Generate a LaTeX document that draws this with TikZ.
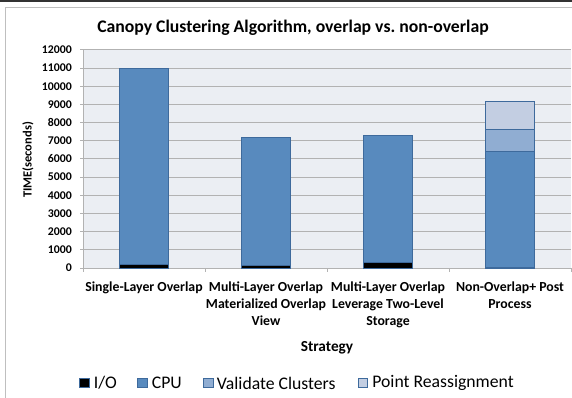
\documentclass[tikz,border=0pt]{standalone}
\usepackage{fontspec}
\setmainfont{Carlito}
\usetikzlibrary{positioning}

\definecolor{plotbg}{RGB}{235,238,243}
\definecolor{gridgray}{RGB}{178,178,178}
\definecolor{cpublue}{RGB}{88,138,190}
\definecolor{valblue}{RGB}{144,173,210}
\definecolor{reablue}{RGB}{195,206,226}
\definecolor{barline}{RGB}{62,106,156}

\begin{document}
\begin{tikzpicture}[x=1pt,y=-1pt,
  bar/.style={draw=barline,line width=0.8pt},
  ticklabel/.style={font=\bfseries\fontsize{11.8}{13}\selectfont,anchor=east,inner sep=0pt},
  catlabel/.style={font=\bfseries\fontsize{13.8}{17}\selectfont,align=center,anchor=north,inner sep=0pt},
  legkey/.style={draw=barline,line width=0.8pt,minimum size=9.5pt,inner sep=0pt},
  legtext/.style={font=\fontsize{17.7}{20}\selectfont,anchor=west,inner sep=0pt}]
\useasboundingbox (0,0) rectangle (572,398);
% frame
\fill[black!80] (0,0) rectangle (572,2.5);
\draw[black!25,line width=1.2pt] (5.5,398) -- (5.5,7.5) -- (572,7.5);
% plot area
\fill[plotbg] (83,50) rectangle (571,268);
\foreach \v in {0,1000,...,12000} {
  \draw[gridgray,line width=1pt] (80,{268-0.01817*\v}) -- (571,{268-0.01817*\v});
  \node[ticklabel] (t\v) at (72,{268-0.01817*\v}) {\v};
}
\draw[gridgray,line width=1pt] (83,50) -- (83,268);
\foreach \x in {83,205,327,449,571}
  \draw[gridgray,line width=1pt] (\x,268) -- (\x,271.5);
% bars: centre / I/O / CPU
\foreach \c/\io/\cpu in {144/200/10800, 266/160/7040, 388/300/7020, 510/60/6340} {
  \draw[bar,fill=black] (\c-24.5,268) rectangle (\c+24.5,{268-0.01817*\io});
  \draw[bar,fill=cpublue] (\c-24.5,{268-0.01817*\io}) rectangle (\c+24.5,{268-0.01817*(\io+\cpu)});
}
\draw[bar,fill=valblue] (485.5,{268-0.01817*6400}) rectangle (534.5,{268-0.01817*7600});
\draw[bar,fill=reablue] (485.5,{268-0.01817*7600}) rectangle (534.5,{268-0.01817*9150});
% texts
\node[font=\bfseries\fontsize{17.7}{20}\selectfont] (title) at (293,28) {Canopy Clustering Algorithm, overlap vs.\ non-overlap};
\node[font=\bfseries\fontsize{12.5}{15}\selectfont,rotate=90] (ylab) at (28,160) {TIME(seconds)};
\node[catlabel] (c1) at (144,282) {Single-Layer Overlap};
\node[catlabel] (c2) at (266,282) {Multi-Layer Overlap\\Materialized Overlap\\View};
\node[catlabel] (c3) at (388,282) {Multi-Layer Overlap\\Leverage Two-Level\\Storage};
\node[catlabel] (c4) at (510,282) {Non-Overlap+ Post\\Process};
\node[font=\bfseries\fontsize{15.3}{18}\selectfont] (xlab) at (327,348) {Strategy};
% legend
\node[legkey,fill=black] (k1) at (84.5,383) {};
\node[legtext,right=4pt of k1] (l1) {I/O};
\node[legkey,fill=cpublue] (k2) at (142.5,383) {};
\node[legtext,right=4pt of k2] (l2) {CPU};
\node[legkey,fill=valblue] (k3) at (208.5,383) {};
\node[legtext,right=3pt of k3] (l3) {Validate Clusters};
\node[legkey,fill=reablue] (k4) at (363,383) {};
\node[legtext,right=4pt of k4] (l4) {Point Reassignment};
\end{tikzpicture}
\end{document}
